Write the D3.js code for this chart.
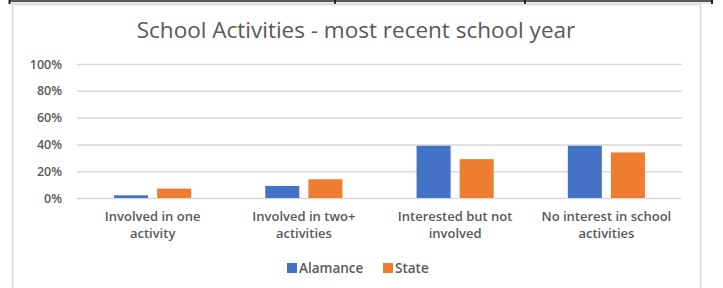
<!DOCTYPE html>
<html>
<head>
<meta charset="utf-8">
<script src="https://cdn.jsdelivr.net/npm/d3@7"></script>
<style>
  body { margin: 0; background: #fff; }
  text { font-family: "Open Sans", "Liberation Sans", sans-serif; fill: #595959; }
</style>
</head>
<body>
<svg id="chart"></svg>
<script>
let categories = [
    ["Involved in one", "activity"],
    ["Involved in two+", "activities"],
    ["Interested but not", "involved"],
    ["No interest in school", "activities"]
];
let seriesNames = ["Alamance", "State"];
let alamance = [0.02, 0.09, 0.39, 0.39];
let state = [0.07, 0.14, 0.29, 0.34];
let colors = ["#4472C4", "#ED7D31"];
let yTicks = [0, 0.2, 0.4, 0.6, 0.8, 1];

let width = 723;
let height = 288;
let svg = d3.select("#chart").attr("width", width).attr("height", height);

// page border bits above the chart box
svg.append("rect").attr("x", 9).attr("y", 2).attr("width", 703).attr("height", 2).attr("fill", "#e8e8e8");
svg.append("line").attr("x1", 9).attr("x2", 713).attr("y1", 1).attr("y2", 1)
    .attr("stroke", "#222").attr("stroke-width", 1.5);
[9.5, 335, 525, 712].forEach(x => {
    svg.append("line").attr("x1", x).attr("x2", x).attr("y1", 0).attr("y2", 4)
        .attr("stroke", "#222").attr("stroke-width", 2);
});

// chart frame
svg.append("rect").attr("x", 12.5).attr("y", 4.5).attr("width", 688).attr("height", 300)
    .attr("fill", "none").attr("stroke", "#d9d9d9").attr("stroke-width", 1.5);

svg.append("text")
    .attr("x", 356).attr("y", 38)
    .attr("text-anchor", "middle")
    .style("font-size", "22.5px")
    .text("School Activities - most recent school year");

let x0 = d3.scaleBand()
    .domain(d3.range(categories.length))
    .range([77, 682])
    .paddingInner(0.49)
    .paddingOuter(0.245);

let x1 = d3.scaleBand()
    .domain(seriesNames)
    .range([0, x0.bandwidth()])
    .paddingInner(0.21);

let y = d3.scaleLinear().domain([0, 1]).range([198, 64]);

let yAxis = d3.axisLeft(y)
    .tickValues(yTicks)
    .tickFormat(d3.format(".0%"))
    .tickSize(-(682 - 77))
    .tickPadding(15);

let gy = svg.append("g").attr("transform", "translate(77,0)").call(yAxis);
gy.select(".domain").remove();
gy.selectAll(".tick line").attr("stroke", "#d9d9d9").attr("stroke-width", 1.5);
gy.selectAll(".tick text").style("font-size", "12.5px").style("font-weight", 600).attr("fill", "#595959");

let values = [alamance, state];
seriesNames.forEach((name, s) => {
    svg.append("g").selectAll("rect")
        .data(values[s])
        .join("rect")
        .attr("x", (d, i) => x0(i) + x1(name))
        .attr("y", d => y(d))
        .attr("width", x1.bandwidth())
        .attr("height", d => y(0) - y(d))
        .attr("fill", colors[s]);
});

let xLabels = svg.append("g");
categories.forEach((lines, i) => {
    let t = xLabels.append("text")
        .attr("text-anchor", "middle")
        .style("font-size", "13px")
        .style("font-weight", 600);
    lines.forEach((line, k) => {
        t.append("tspan")
            .attr("x", x0(i) + x0.bandwidth() / 2)
            .attr("y", 221 + k * 17)
            .text(line);
    });
});

// legend
let legendX = [287, 383];
seriesNames.forEach((name, s) => {
    svg.append("rect").attr("x", legendX[s]).attr("y", 263)
        .attr("width", 10).attr("height", 10).attr("fill", colors[s]);
    svg.append("text").attr("x", legendX[s] + 12).attr("y", 272.5)
        .style("font-size", "13.5px").style("font-weight", 600).text(name);
});
</script>
</body>
</html>
